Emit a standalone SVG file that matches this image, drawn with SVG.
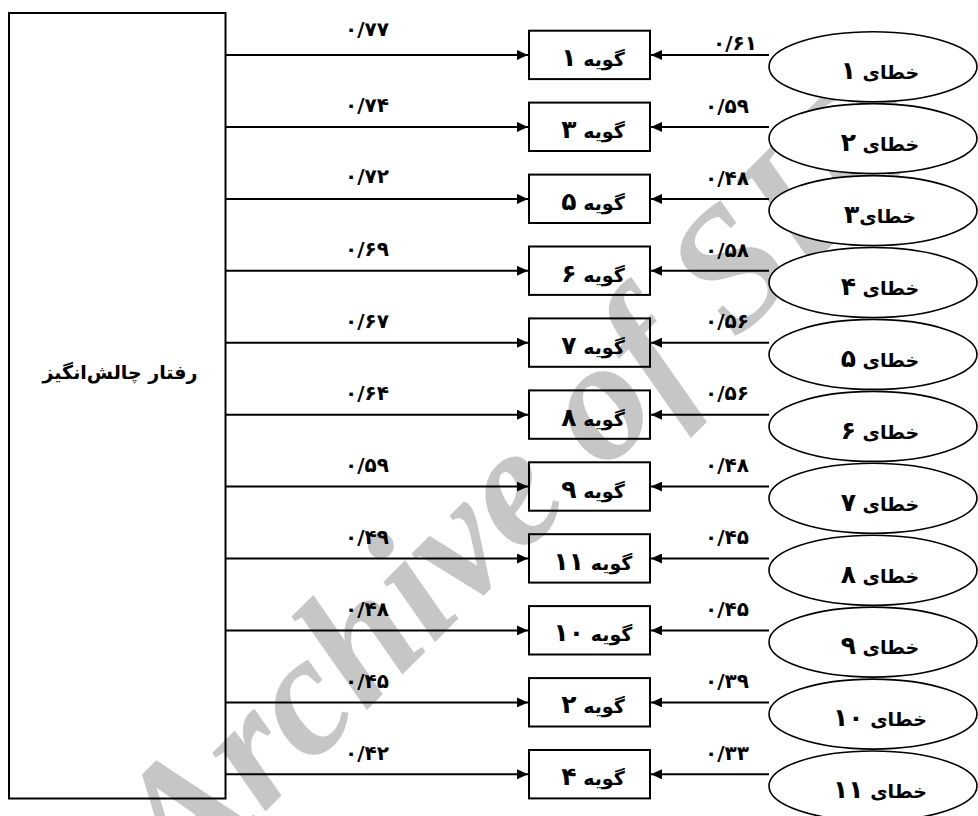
<svg xmlns="http://www.w3.org/2000/svg" width="978" height="816" viewBox="0 0 978 816">
<style>
.wm{font-family:"Liberation Serif",serif;font-weight:bold;font-style:italic;font-size:172px;fill:#c6c6c6}
.box{fill:none;stroke:#000;stroke-width:2}
.ell{fill:#fff;stroke:#000;stroke-width:1.6}
.ln{stroke:#000;stroke-width:2;fill:none}
.t{font-family:"DejaVu Sans",sans-serif;font-weight:bold;font-size:19px;fill:#000;text-anchor:middle}
.d{font-size:25px}
.lab{font-family:"DejaVu Sans",sans-serif;font-weight:bold;font-size:20px;fill:#000;text-anchor:middle}
</style>
<defs>
<marker id="ah" markerUnits="userSpaceOnUse" markerWidth="11" markerHeight="10" refX="11" refY="5" orient="auto">
<path d="M0,0 L11,5 L0,10 z" fill="#000"/>
</marker>
</defs>
<rect width="978" height="816" fill="#fff"/>
<g id="watermark"><text class="wm" transform="translate(182,895) rotate(-45)">Archive of SID</text></g>
<g id="factor"><rect class="box" x="9" y="13" width="216.5" height="785.5"/><text class="t" x="120" y="379">رفتار چالش‌انگیز</text></g>
<g id="items">
<g id="item1"><rect class="box" x="529" y="30.7" width="121" height="48.4"/><text class="t" x="593" y="66">گویه <tspan class="d">۱</tspan></text></g>
<g id="item3"><rect class="box" x="529" y="102.6" width="121" height="48.4"/><text class="t" x="593" y="137.9">گویه <tspan class="d">۳</tspan></text></g>
<g id="item5"><rect class="box" x="529" y="174.6" width="121" height="48.4"/><text class="t" x="593" y="209.9">گویه <tspan class="d">۵</tspan></text></g>
<g id="item6"><rect class="box" x="529" y="246.5" width="121" height="48.4"/><text class="t" x="593" y="281.8">گویه <tspan class="d">۶</tspan></text></g>
<g id="item7"><rect class="box" x="529" y="318.4" width="121" height="48.4"/><text class="t" x="593" y="353.7">گویه <tspan class="d">۷</tspan></text></g>
<g id="item8"><rect class="box" x="529" y="390.4" width="121" height="48.4"/><text class="t" x="593" y="425.7">گویه <tspan class="d">۸</tspan></text></g>
<g id="item9"><rect class="box" x="529" y="462.3" width="121" height="48.4"/><text class="t" x="593" y="497.6">گویه <tspan class="d">۹</tspan></text></g>
<g id="item11"><rect class="box" x="529" y="534.2" width="121" height="48.4"/><text class="t" x="593" y="569.5">گویه <tspan class="d">۱۱</tspan></text></g>
<g id="item10"><rect class="box" x="529" y="606.1" width="121" height="48.4"/><text class="t" x="593" y="641.4">گویه <tspan class="d">۱۰</tspan></text></g>
<g id="item2"><rect class="box" x="529" y="678.1" width="121" height="48.4"/><text class="t" x="593" y="713.4">گویه <tspan class="d">۲</tspan></text></g>
<g id="item4"><rect class="box" x="529" y="750" width="121" height="48.4"/><text class="t" x="593" y="785.3">گویه <tspan class="d">۴</tspan></text></g>
</g>
<g id="errors">
<g id="e1"><ellipse class="ell" cx="873" cy="66.7" rx="104" ry="35"/><text class="t" x="880" y="79">خطای <tspan class="d">۱</tspan></text></g>
<g id="e2"><ellipse class="ell" cx="873" cy="138.6" rx="104" ry="35"/><text class="t" x="880" y="150.9">خطای <tspan class="d">۲</tspan></text></g>
<g id="e3"><ellipse class="ell" cx="873" cy="210.6" rx="104" ry="35"/><text class="t" x="880" y="222.9">خطای<tspan class="d">۳</tspan></text></g>
<g id="e4"><ellipse class="ell" cx="873" cy="282.5" rx="104" ry="35"/><text class="t" x="880" y="294.8">خطای <tspan class="d">۴</tspan></text></g>
<g id="e5"><ellipse class="ell" cx="873" cy="354.4" rx="104" ry="35"/><text class="t" x="880" y="366.7">خطای <tspan class="d">۵</tspan></text></g>
<g id="e6"><ellipse class="ell" cx="873" cy="426.4" rx="104" ry="35"/><text class="t" x="880" y="438.7">خطای <tspan class="d">۶</tspan></text></g>
<g id="e7"><ellipse class="ell" cx="873" cy="498.3" rx="104" ry="35"/><text class="t" x="880" y="510.6">خطای <tspan class="d">۷</tspan></text></g>
<g id="e8"><ellipse class="ell" cx="873" cy="570.2" rx="104" ry="35"/><text class="t" x="880" y="582.5">خطای <tspan class="d">۸</tspan></text></g>
<g id="e9"><ellipse class="ell" cx="873" cy="642.1" rx="104" ry="35"/><text class="t" x="880" y="654.4">خطای <tspan class="d">۹</tspan></text></g>
<g id="e10"><ellipse class="ell" cx="873" cy="714.1" rx="104" ry="35"/><text class="t" x="880" y="726.4">خطای <tspan class="d">۱۰</tspan></text></g>
<g id="e11"><ellipse class="ell" cx="873" cy="786" rx="104" ry="35"/><text class="t" x="880" y="798.3">خطای <tspan class="d">۱۱</tspan></text></g>
</g>
<g id="connectors">
<g class="ln" marker-end="url(#ah)">
<line x1="226" y1="55" x2="528" y2="55"/>
<line x1="226" y1="126.9" x2="528" y2="126.9"/>
<line x1="226" y1="198.9" x2="528" y2="198.9"/>
<line x1="226" y1="270.8" x2="528" y2="270.8"/>
<line x1="226" y1="342.7" x2="528" y2="342.7"/>
<line x1="226" y1="414.7" x2="528" y2="414.7"/>
<line x1="226" y1="486.6" x2="528" y2="486.6"/>
<line x1="226" y1="558.5" x2="528" y2="558.5"/>
<line x1="226" y1="630.4" x2="528" y2="630.4"/>
<line x1="226" y1="702.4" x2="528" y2="702.4"/>
<line x1="226" y1="774.3" x2="528" y2="774.3"/>
<line x1="769" y1="55" x2="651" y2="55"/>
<line x1="769" y1="126.9" x2="651" y2="126.9"/>
<line x1="769" y1="198.9" x2="651" y2="198.9"/>
<line x1="769" y1="270.8" x2="651" y2="270.8"/>
<line x1="769" y1="342.7" x2="651" y2="342.7"/>
<line x1="769" y1="414.7" x2="651" y2="414.7"/>
<line x1="769" y1="486.6" x2="651" y2="486.6"/>
<line x1="769" y1="558.5" x2="651" y2="558.5"/>
<line x1="769" y1="630.4" x2="651" y2="630.4"/>
<line x1="769" y1="702.4" x2="651" y2="702.4"/>
<line x1="769" y1="774.3" x2="651" y2="774.3"/>
</g>
<g id="loadings">
<text class="lab" x="367" y="36">۰/۷۷</text>
<text class="lab" x="367" y="112">۰/۷۴</text>
<text class="lab" x="367" y="183">۰/۷۲</text>
<text class="lab" x="367" y="256">۰/۶۹</text>
<text class="lab" x="367" y="328">۰/۶۷</text>
<text class="lab" x="367" y="400">۰/۶۴</text>
<text class="lab" x="367" y="472">۰/۵۹</text>
<text class="lab" x="367" y="544">۰/۴۹</text>
<text class="lab" x="367" y="616">۰/۴۸</text>
<text class="lab" x="367" y="688">۰/۴۵</text>
<text class="lab" x="367" y="760">۰/۴۲</text>
</g>
<g id="errloadings">
<text class="lab" x="735" y="50">۰/۶۱</text>
<text class="lab" x="727" y="113">۰/۵۹</text>
<text class="lab" x="727" y="185">۰/۴۸</text>
<text class="lab" x="727" y="257">۰/۵۸</text>
<text class="lab" x="727" y="328">۰/۵۶</text>
<text class="lab" x="727" y="400">۰/۵۶</text>
<text class="lab" x="727" y="472">۰/۴۸</text>
<text class="lab" x="727" y="544">۰/۴۵</text>
<text class="lab" x="727" y="616">۰/۴۵</text>
<text class="lab" x="727" y="688">۰/۳۹</text>
<text class="lab" x="727" y="760">۰/۳۳</text>
</g>
</g>
</svg>
